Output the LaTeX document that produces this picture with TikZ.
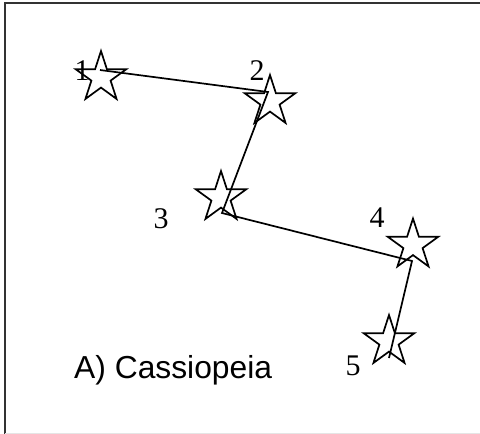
\documentclass[tikz,border=0pt]{standalone}
\usepackage{fontspec}
\setmainfont{Liberation Serif}
\setsansfont{Liberation Sans}
\begin{document}
\begin{tikzpicture}[x=1pt,y=-1pt,
  starline/.style={draw=black,line width=1.7pt,fill=white,line join=miter},
  link/.style={draw=black,line width=1.7pt},
  num/.style={font=\fontsize{30}{30}\selectfont,inner sep=0pt,anchor=base},
  caption/.style={font=\sffamily\fontsize{31.8}{32}\selectfont,inner sep=0pt,anchor=base west},
  starpic/.pic={\path[starline] (-90:26.5)
     -- (-54:10.1) -- (-18:26.5) -- (18:10.1) -- (54:26.5) -- (90:10.1)
     -- (126:26.5) -- (162:10.1) -- (198:26.5) -- (234:10.1) -- cycle;}]
\useasboundingbox (0,0) rectangle (480,434);
\fill[white] (0,0) rectangle (480,434);
% frame
\draw[line width=2pt,black!80] (5,434) -- (5,2.7) -- (480,2.7);
\draw[line width=0.8pt,black!10] (5,433.2) -- (480,433.2);
% stars
\pic (s1) at (101,77.5) {starpic};
\pic (s2) at (270,101.5) {starpic};
\pic (s3) at (221,197.5) {starpic};
\pic (s4) at (413,245) {starpic};
\pic (s5) at (389,341.5) {starpic};
% link points
\coordinate (p1) at (100,70);
\coordinate (p2) at (268,92);
\coordinate (p3) at (222,213);
\coordinate (p4) at (412,261);
\coordinate (p5) at (389,358);
\path[link] (p1) -- (p2) -- (p3) -- (p4) -- (p5);
% labels
\node[num] (l1) at (82,80.5) {1};
\node[num] (l2) at (257,80) {2};
\node[num] (l3) at (161,228) {3};
\node[num] (l4) at (377,227) {4};
\node[num] (l5) at (353,375) {5};
\node[caption] (cap) at (74,378) {A) Cassiopeia};
\end{tikzpicture}
\end{document}
